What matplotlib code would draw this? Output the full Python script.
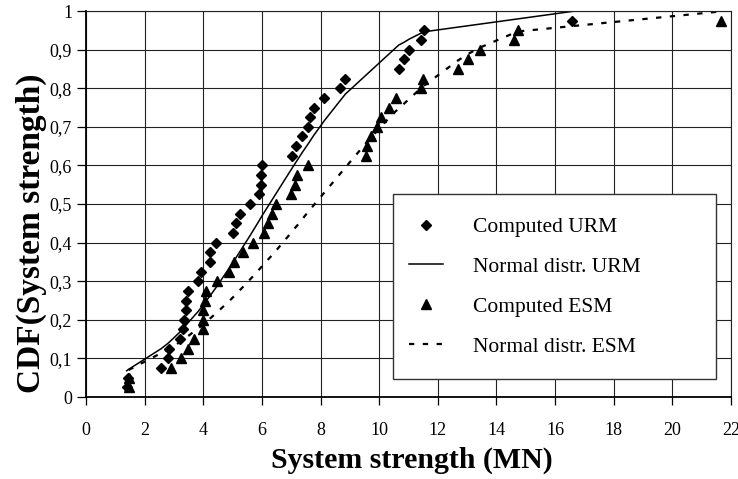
import matplotlib
matplotlib.use("Agg")
import matplotlib.pyplot as plt
from matplotlib.patches import Rectangle

plt.rcParams['font.family'] = ['Liberation Serif', 'DejaVu Serif']

# Computed system strengths (MN) for each cumulative probability level
cdf_levels = [0.025, 0.05, 0.075, 0.1, 0.125, 0.15, 0.175, 0.2, 0.225, 0.25,
              0.275, 0.3, 0.325, 0.35, 0.375, 0.4, 0.425, 0.45, 0.475, 0.5,
              0.525, 0.55, 0.575, 0.6, 0.625, 0.65, 0.675, 0.7, 0.725, 0.75,
              0.775, 0.8, 0.825, 0.85, 0.875, 0.9, 0.925, 0.95, 0.975]

urm_strength = [1.39, 1.44, 2.56, 2.78, 2.84, 3.20, 3.32, 3.35, 3.41, 3.41,
                3.49, 3.83, 3.92, 4.23, 4.23, 4.43, 5.00, 5.10, 5.26, 5.61,
                5.90, 5.97, 5.97, 6.00, 7.03, 7.15, 7.38, 7.58, 7.64, 7.77,
                8.12, 8.66, 8.85, 10.67, 10.85, 11.02, 11.44, 11.52, 16.59]

esm_strength = [1.45, 1.48, 2.90, 3.23, 3.47, 3.69, 3.98, 3.98, 3.98, 4.06,
                4.09, 4.48, 4.89, 5.05, 5.34, 5.70, 6.08, 6.22, 6.33, 6.48,
                6.99, 7.13, 7.20, 7.58, 9.54, 9.57, 9.72, 9.91, 10.05, 10.34,
                10.56, 11.41, 11.48, 12.69, 13.04, 13.43, 14.60, 14.74, 21.67]

# Fitted normal CDF values at the sorted strengths
urm_normal = [0.068, 0.071, 0.125, 0.138, 0.142, 0.168, 0.178, 0.181, 0.186, 0.186,
              0.193, 0.222, 0.231, 0.262, 0.262, 0.283, 0.347, 0.359, 0.378, 0.420,
              0.456, 0.465, 0.465, 0.469, 0.593, 0.607, 0.634, 0.656, 0.663, 0.678,
              0.715, 0.767, 0.785, 0.912, 0.919, 0.927, 0.943, 0.946, 0.999]

esm_normal = [0.070, 0.071, 0.127, 0.144, 0.157, 0.170, 0.187, 0.187, 0.187, 0.192,
              0.194, 0.220, 0.249, 0.261, 0.284, 0.313, 0.345, 0.357, 0.366, 0.379,
              0.425, 0.438, 0.444, 0.480, 0.657, 0.660, 0.672, 0.688, 0.700, 0.723,
              0.740, 0.799, 0.804, 0.872, 0.889, 0.905, 0.943, 0.947, 0.999]

x_ticks = [0, 2, 4, 6, 8, 10, 12, 14, 16, 18, 20, 22]
y_ticks = [0, 0.1, 0.2, 0.3, 0.4, 0.5, 0.6, 0.7, 0.8, 0.9, 1.0]
y_tick_labels = ["0", "0,1", "0,2", "0,3", "0,4", "0,5", "0,6", "0,7", "0,8", "0,9", "1"]

fig = plt.figure(figsize=(7.38, 4.79), dpi=100)
ax = fig.add_axes([86 / 738, 1 - 397 / 479, 645 / 738, 386 / 479])

ax.plot(urm_strength, cdf_levels, linestyle='none', marker='D', markersize=5.2,
        color='black', label='Computed URM', zorder=3)
ax.plot(urm_strength, urm_normal, color='black', linewidth=1.1,
        label='Normal distr. URM', zorder=2)
ax.plot(esm_strength, cdf_levels, linestyle='none', marker='^', markersize=7,
        color='black', label='Computed ESM', zorder=3)
ax.plot(esm_strength, esm_normal, color='black', linewidth=1.6,
        linestyle=(0, (2.4, 3.8)), label='Normal distr. ESM', zorder=2)

ax.set_xlim(0, 22)
ax.set_ylim(0, 1)
ax.set_xticks(x_ticks)
ax.set_yticks(y_ticks)
ax.set_yticklabels(y_tick_labels)
ax.grid(True, color='#222222', linewidth=0.8)
ax.set_axisbelow(True)

for side in ['top', 'right']:
    ax.spines[side].set_linewidth(0.8)
    ax.spines[side].set_color('#222222')
for side in ['left', 'bottom']:
    ax.spines[side].set_linewidth(1.3)

ax.tick_params(axis='x', direction='out', length=6, width=0.9, pad=12, labelsize=13)
ax.tick_params(axis='y', direction='out', length=6.5, width=0.9, pad=3.5, labelsize=13)

# Legend frame
ax.add_patch(Rectangle((0.476, 0.0466), 0.501, 0.4794, transform=ax.transAxes,
                       facecolor='white', edgecolor='#333333', linewidth=1.0,
                       zorder=4.5))
leg = ax.legend(loc='upper left', bbox_to_anchor=(0.5008, 0.4663), frameon=False,
                borderpad=0, borderaxespad=0, fontsize=15.5, handlelength=1.58,
                handletextpad=1.4, labelspacing=0.92, markerscale=1.0)
leg.set_zorder(5)

fig.text(412 / 738, 1 - 460 / 479, 'System strength (MN)', ha='center', va='center',
         fontsize=21.5, fontweight='bold')
fig.text(31 / 738, 1 - 233 / 479, 'CDF(System strength)', ha='center', va='center',
         rotation=90, fontsize=24, fontweight='bold')

fig.savefig('out.png', dpi=100)
